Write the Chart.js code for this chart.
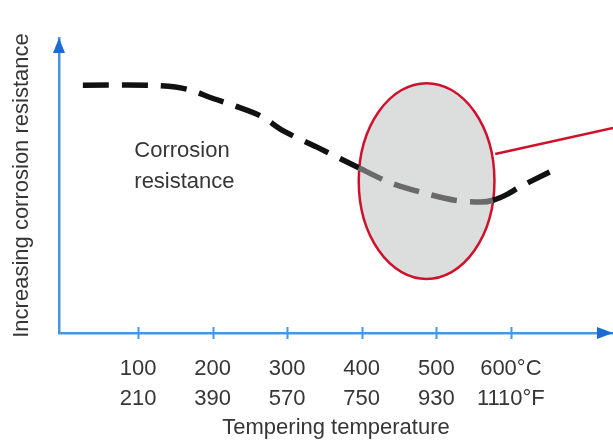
<!DOCTYPE html>
<html>
<head>
<meta charset="utf-8">
<script src="https://cdn.jsdelivr.net/npm/chart.js@4"></script>
<style>
  html, body { margin: 0; padding: 0; background: #fff; }
  #wrap { width: 613px; height: 441px; }
</style>
</head>
<body>
<div id="wrap"><canvas id="chart"></canvas></div>
<script>
// ---------- DATA ----------
const temps = [26, 115, 150, 175, 195, 230, 265, 295, 340, 396, 440, 490, 525, 560, 576, 595, 612, 652];
const resistance = [84, 84, 83.4, 82, 80, 77, 73.5, 68.5, 63, 56, 50.8, 47, 45, 44.4, 45, 47, 49.5, 54.6];
const tickTemps = [100, 200, 300, 400, 500, 600];
const celsiusLabels = ["100", "200", "300", "400", "500", "600°C"];
const fahrenheitLabels = ["210", "390", "570", "750", "930", "1110°F"];
const noteLines = ["Corrosion", "resistance"];

// ---------- STYLE ----------
const axisBlue = "#4b95dc";
const arrowBlue = "#1a6bd3";
const zoneRed = "#d0112b";
const textColor = "#363636";
const fontFamily = '"Liberation Sans", Arial, Helvetica, sans-serif';
// points from this index up to greyTo lie inside the highlighted zone
const greyFrom = 9;
const greyTo = 14;

// highlighted zone + pointer line + note, placed in data units
const zone = { x: 487, y: 51.5, rx: 91, ry: 33.2 };
const pointer = { x1: 579, y1: 60.7, x2: 737, y2: 69.5 };
const note = { x: 95, y1: 59.7, y2: 49.2 };

const points = temps.map((t, i) => ({ x: t, y: resistance[i] }));

// Draws the zone ellipse, pointer, arrows, crossing ticks and note text
const decorPlugin = {
  id: "decor",
  beforeDatasetsDraw(chart) {
    const { ctx, scales: { x, y } } = chart;
    const cx = x.getPixelForValue(zone.x);
    const cy = y.getPixelForValue(zone.y);
    const rx = x.getPixelForValue(zone.x + zone.rx) - cx;
    const ry = cy - y.getPixelForValue(zone.y + zone.ry);
    ctx.save();
    ctx.beginPath();
    ctx.ellipse(cx, cy, rx, ry, 0, 0, Math.PI * 2);
    ctx.fillStyle = "#dcdddd";
    ctx.fill();
    ctx.lineWidth = 2.5;
    ctx.strokeStyle = zoneRed;
    ctx.stroke();
    // pointer line
    ctx.beginPath();
    ctx.moveTo(x.getPixelForValue(pointer.x1), y.getPixelForValue(pointer.y1));
    ctx.lineTo(x.getPixelForValue(pointer.x2), y.getPixelForValue(pointer.y2));
    ctx.stroke();
    ctx.restore();
  },
  afterDraw(chart) {
    const { ctx, chartArea, scales: { x, y } } = chart;
    ctx.save();
    // crossing tick marks on the x axis
    ctx.strokeStyle = axisBlue;
    ctx.lineWidth = 2;
    tickTemps.forEach((t) => {
      const px = Math.round(x.getPixelForValue(t)) + 0.5;
      ctx.beginPath();
      ctx.moveTo(px, chartArea.bottom - 6);
      ctx.lineTo(px, chartArea.bottom + 6);
      ctx.stroke();
    });
    // arrow heads
    ctx.fillStyle = arrowBlue;
    ctx.beginPath();
    ctx.moveTo(chartArea.left, chartArea.top);
    ctx.lineTo(chartArea.left - 6, chartArea.top + 15);
    ctx.lineTo(chartArea.left + 6, chartArea.top + 15);
    ctx.closePath();
    ctx.fill();
    ctx.beginPath();
    ctx.moveTo(chartArea.right, chartArea.bottom);
    ctx.lineTo(chartArea.right - 16, chartArea.bottom - 6);
    ctx.lineTo(chartArea.right - 16, chartArea.bottom + 6);
    ctx.closePath();
    ctx.fill();
    // note text
    ctx.fillStyle = textColor;
    ctx.font = "22px " + fontFamily;
    ctx.textBaseline = "alphabetic";
    ctx.fillText(noteLines[0], x.getPixelForValue(note.x), y.getPixelForValue(note.y1));
    ctx.fillText(noteLines[1], x.getPixelForValue(note.x), y.getPixelForValue(note.y2));
    ctx.restore();
  },
};

const chart = new Chart(document.getElementById("chart"), {
  type: "line",
  data: {
    datasets: [
      {
        data: points,
        borderColor: "#111",
        borderWidth: 5.5,
        borderDash: [26, 13],
        borderCapStyle: "butt",
        pointRadius: 0,
        tension: 0.3,
        fill: false,
        segment: {
          borderColor: (ctx) =>
            ctx.p0DataIndex >= greyFrom && ctx.p1DataIndex <= greyTo ? "#6a6a6a" : undefined,
        },
      },
    ],
  },
  options: {
    responsive: true,
    maintainAspectRatio: false,
    animation: false,
    layout: { padding: { top: 38, left: 0, right: 0, bottom: 0 } },
    plugins: { legend: { display: false }, tooltip: { enabled: false } },
    scales: {
      x: {
        type: "linear",
        min: -6,
        max: 737,
        afterBuildTicks: (s) => {
          s.ticks = tickTemps.map((v) => ({ value: v }));
        },
        afterFit: (s) => {
          s.height = 108;
        },
        grid: { display: false, drawTicks: false },
        border: { display: true, color: axisBlue, width: 2.5 },
        ticks: {
          autoSkip: false,
          maxRotation: 0,
          padding: 21,
          color: textColor,
          font: { family: fontFamily, size: 22, lineHeight: 1.36 },
          callback: (v, i) => [celsiusLabels[i], fahrenheitLabels[i]],
        },
        title: {
          display: true,
          text: "Tempering temperature",
          color: textColor,
          font: { family: fontFamily, size: 22 },
          padding: { top: 0, bottom: 0 },
        },
      },
      y: {
        min: 0,
        max: 100,
        afterFit: (s) => {
          s.width = 59;
        },
        grid: { display: false, drawTicks: false },
        border: { display: true, color: axisBlue, width: 2.5 },
        ticks: { display: false },
        title: {
          display: true,
          text: "Increasing corrosion resistance",
          color: textColor,
          font: { family: fontFamily, size: 22 },
          padding: { top: 9, bottom: 0 },
        },
      },
    },
  },
  plugins: [decorPlugin],
});
</script>
</body>
</html>
